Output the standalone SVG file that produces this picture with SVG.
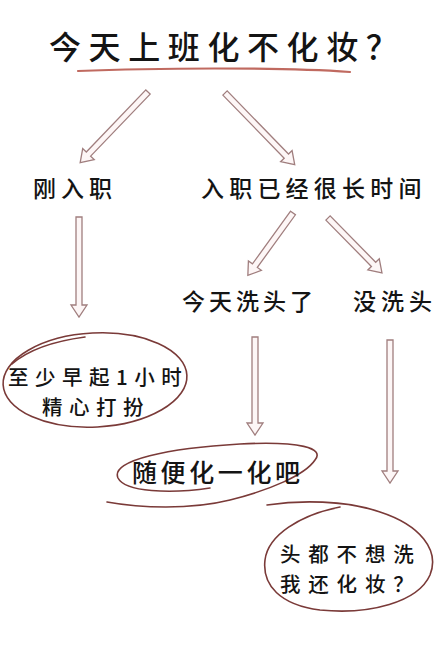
<svg xmlns="http://www.w3.org/2000/svg" width="440" height="653" viewBox="0 0 440 653">
<style>
text{font-family:"Noto Sans CJK SC","Noto Sans",sans-serif;fill:#141414;font-weight:500}
.arr{fill:#fdf6f6;stroke:#a07e7e;stroke-width:1.3;stroke-linejoin:miter}
.loop{fill:none;stroke:#7a3a38;stroke-width:1.6;stroke-linecap:round}
</style>
<rect width="440" height="653" fill="#ffffff"/>
<g id="title">
<text x="49" y="59" font-size="32" letter-spacing="7.6">今天上班化不化妆？</text>
<path d="M78,71 C150,68 280,67 350,72" fill="none" stroke="#c06a60" stroke-width="2.2" stroke-linecap="round"/>
</g>
<g id="connectors">
<path class="arr" transform="translate(148,92) rotate(43.8)" d="M-3,0 H3 V86 H8 L0,98 L-8,86 H-3 Z"/>
<path class="arr" transform="translate(225,93) rotate(-44.2)" d="M-3,0 H3 V88 H8 L0,100 L-8,88 H-3 Z"/>
<path class="arr" transform="translate(79,217)" d="M-3,0 H3 V88 H8 L0,100 L-8,88 H-3 Z"/>
<path class="arr" transform="translate(293,213) rotate(35.9)" d="M-3,0 H3 V65 H8 L0,77 L-8,65 H-3 Z"/>
<path class="arr" transform="translate(328,218) rotate(-44.5)" d="M-3,0 H3 V65 H8 L0,77 L-8,65 H-3 Z"/>
<path class="arr" transform="translate(255,337)" d="M-3,0 H3 V86 H8 L0,98 L-8,86 H-3 Z"/>
<path class="arr" transform="translate(390,340)" d="M-3,0 H3 V131 H8 L0,143 L-8,131 H-3 Z"/>
</g>
<g id="new-job">
<text x="33" y="197" font-size="23" letter-spacing="5">刚入职</text>
</g>
<g id="long-time">
<text x="201" y="197" font-size="23" letter-spacing="5.2">入职已经很长时间</text>
</g>
<g id="washed">
<text x="182" y="310" font-size="23" letter-spacing="4">今天洗头了</text>
</g>
<g id="not-washed">
<text x="353" y="310" font-size="23" letter-spacing="5">没洗头</text>
</g>
<g id="early">
<ellipse class="loop" cx="95" cy="380" rx="92" ry="47" transform="rotate(-3 95 380)"/>
<path class="loop" d="M12,364 C28,350 55,341 85,337"/>
<text font-size="20.5" letter-spacing="6.5"><tspan x="8" y="385">至少早起1小时</tspan><tspan x="42" y="415">精心打扮</tspan></text>
</g>
<g id="casual">
<path class="loop" d="M210,488 C170,494 125,492 118,478 C110,460 170,448 240,444 C300,441 325,448 315,460 C305,475 270,490 230,500 C190,510 140,508 107,502"/>
<text x="132" y="482" font-size="25" letter-spacing="3.6">随便化一化吧</text>
</g>
<g id="no-makeup">
<path class="loop" d="M267,505 C300,500 345,500 380,512 C420,525 440,550 430,575 C418,602 370,615 320,610 C280,605 262,585 265,560 C268,535 300,515 340,507"/>
<text font-size="20.5" letter-spacing="7.8"><tspan x="280" y="562">头都不想洗</tspan><tspan x="280" y="592">我还化妆？</tspan></text>
</g>
</svg>
